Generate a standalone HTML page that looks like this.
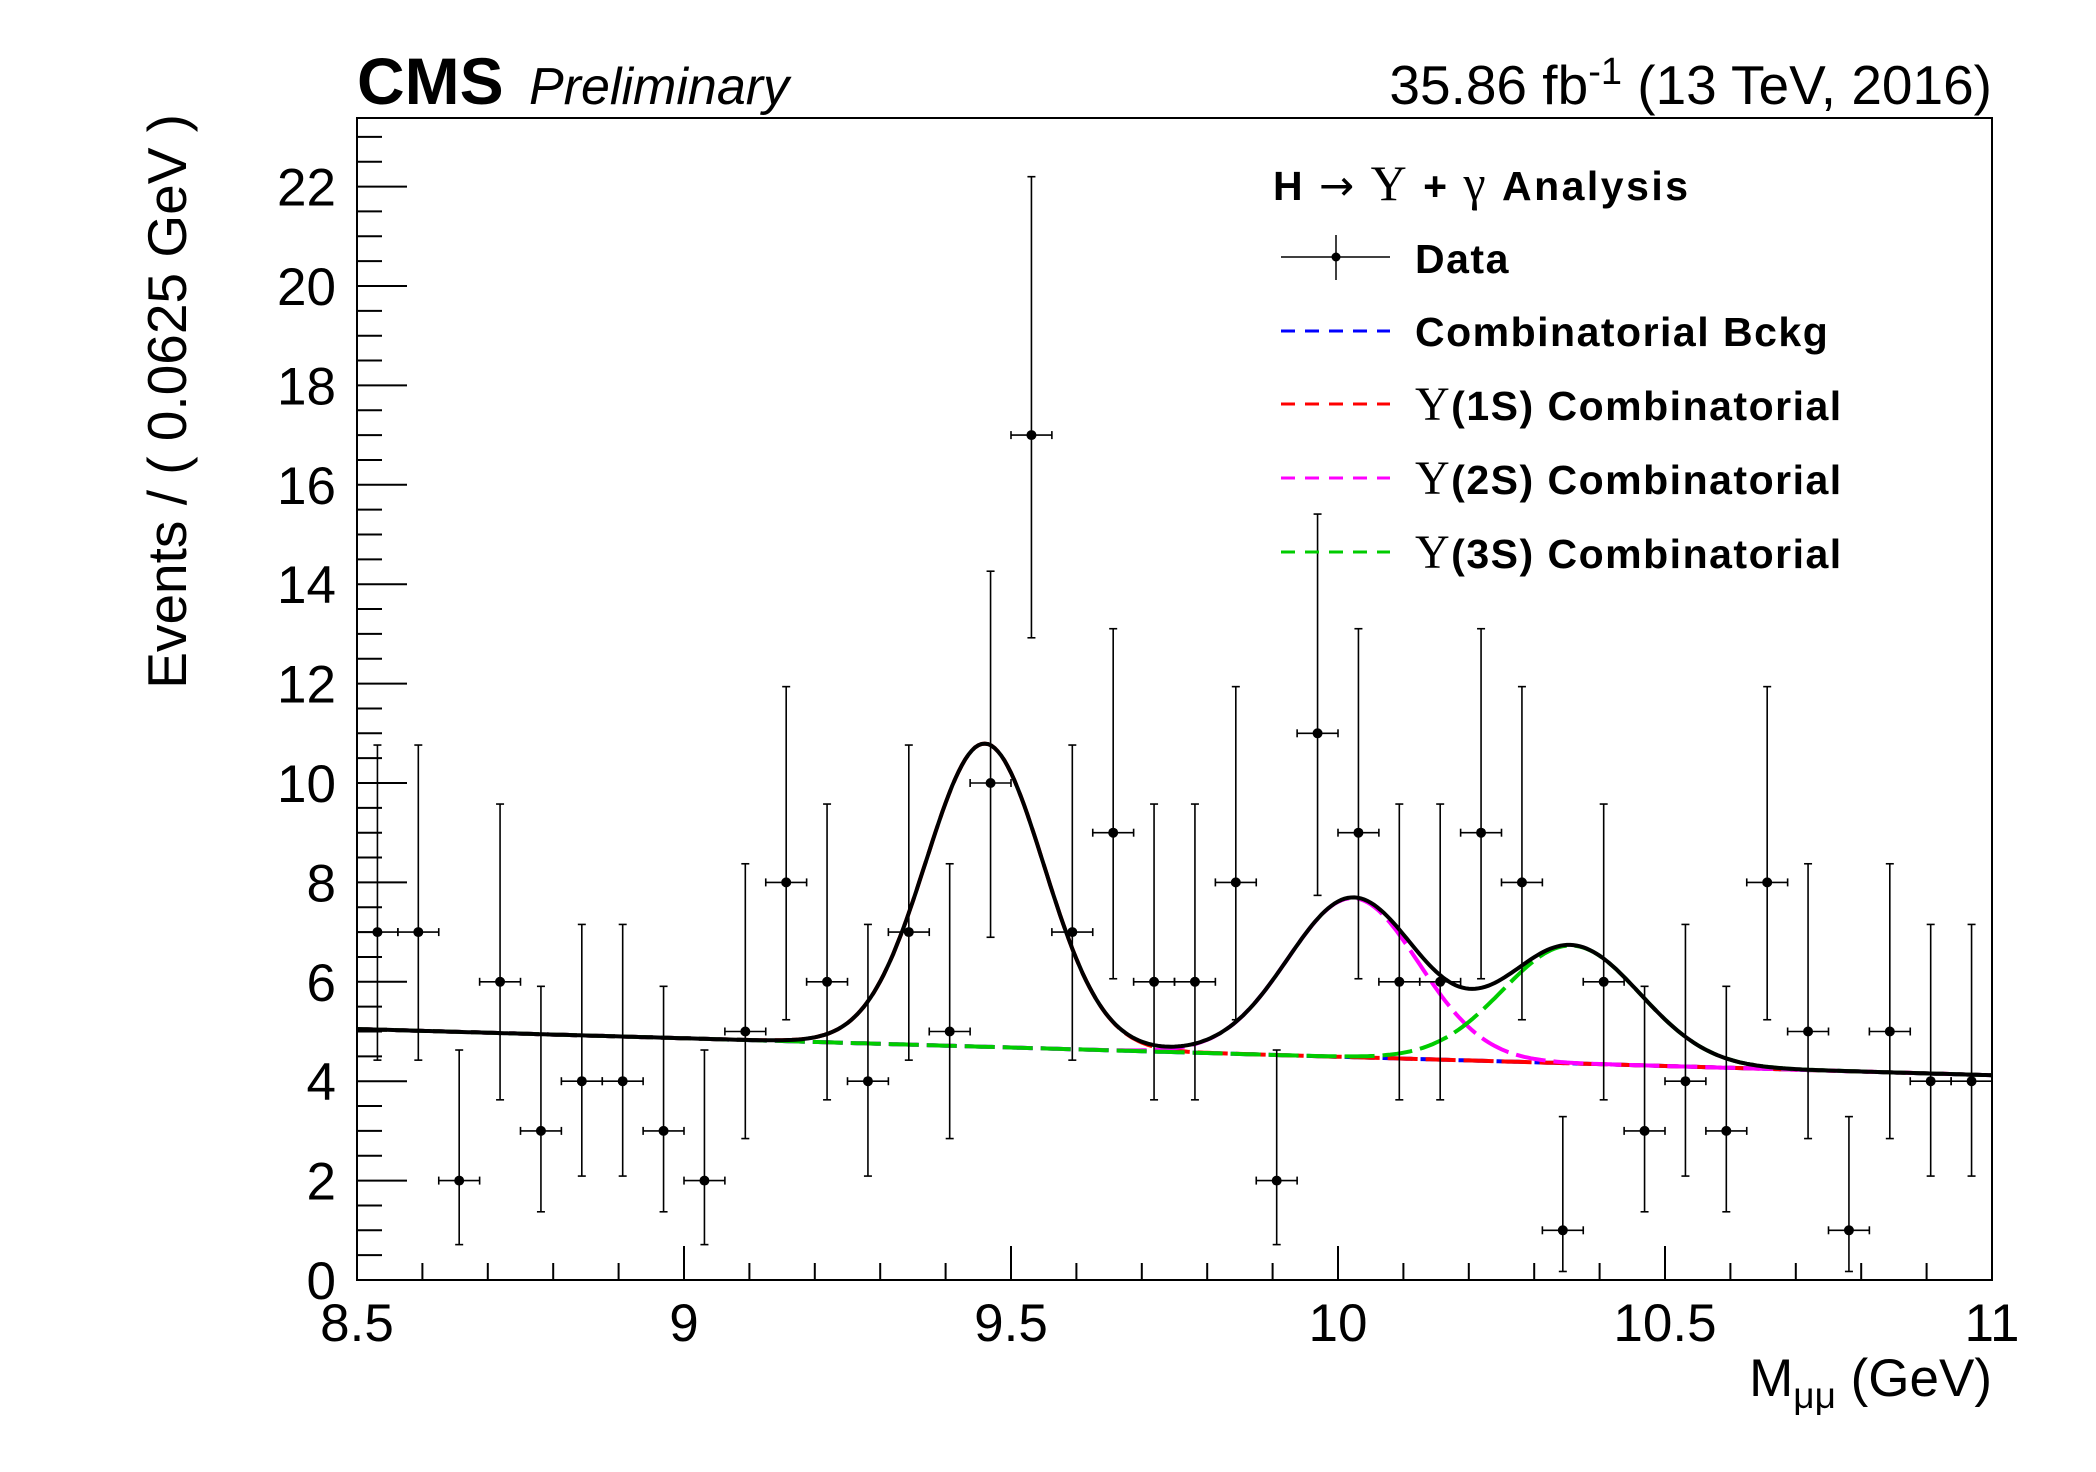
<!DOCTYPE html>
<html><head><meta charset="utf-8"><style>
html,body{margin:0;padding:0;background:#fff;}
svg{display:block;font-family:"Liberation Sans",sans-serif;}
</style></head><body>
<svg id="chart" width="2096" height="1472" viewBox="0 0 2096 1472" xmlns="http://www.w3.org/2000/svg">
<rect x="0" y="0" width="2096" height="1472" fill="#fff"/>
<g id="curves"></g>
<g id="data"></g>
<rect x="357" y="118" width="1635" height="1162" fill="none" stroke="#000" stroke-width="2"/>
<g id="axes"></g>
<text x="357" y="104" font-size="66" font-weight="bold">CMS</text>
<text x="529" y="104" font-size="52" font-style="italic">Preliminary</text>
<text x="1992" y="104" font-size="55" text-anchor="end">35.86 fb<tspan dy="-20" font-size="38">-1</tspan><tspan dy="20"> (13 TeV, 2016)</tspan></text>
<text transform="translate(186,114) rotate(-90)" font-size="55" text-anchor="end">Events / ( 0.0625 GeV )</text>
<text x="1992" y="1396" font-size="53" text-anchor="end">M<tspan dy="12" font-size="37">μμ</tspan><tspan dy="-12"> (GeV)</tspan></text>
<g font-weight="bold" font-size="41" letter-spacing="1.5">
<text x="1273" y="200" letter-spacing="2.5">H  <tspan font-weight="normal" font-family="'DejaVu Sans',sans-serif" font-size="42">→</tspan>  <tspan font-weight="normal" font-family="'Liberation Serif',serif" font-size="50">Υ</tspan> + <tspan font-weight="normal" font-family="'Liberation Serif',serif" font-size="50">γ</tspan> Analysis</text>
<g>
<line x1="1281" y1="257" x2="1390" y2="257" stroke="#000" stroke-width="1.5"/>
<line x1="1336" y1="235" x2="1336" y2="280" stroke="#000" stroke-width="1.5"/>
<circle cx="1336" cy="257" r="4.5" fill="#000"/>
<text x="1415" y="273">Data</text></g>
<g>
<line x1="1281" y1="331" x2="1390" y2="331" stroke="#0000ff" stroke-width="3" stroke-dasharray="14 10"/>
<text x="1415" y="346">Combinatorial Bckg</text></g>
<g>
<line x1="1281" y1="404" x2="1390" y2="404" stroke="#ff0000" stroke-width="3" stroke-dasharray="14 10"/>
<text x="1415" y="420"><tspan font-weight="normal" font-family="'Liberation Serif',serif" font-size="48">Υ</tspan>(1S) Combinatorial</text></g>
<g>
<line x1="1281" y1="478" x2="1390" y2="478" stroke="#ff00ff" stroke-width="3" stroke-dasharray="14 10"/>
<text x="1415" y="494"><tspan font-weight="normal" font-family="'Liberation Serif',serif" font-size="48">Υ</tspan>(2S) Combinatorial</text></g>
<g>
<line x1="1281" y1="552" x2="1390" y2="552" stroke="#00cc00" stroke-width="3" stroke-dasharray="14 10"/>
<text x="1415" y="568"><tspan font-weight="normal" font-family="'Liberation Serif',serif" font-size="48">Υ</tspan>(3S) Combinatorial</text></g>
</g>
</svg>
<script>
const counts = [7,7,2,6,3,4,4,3,2,5,8,6,4,7,5,10,17,7,9,6,6,8,2,11,9,6,6,9,8,1,6,3,4,3,8,5,1,5,4,4];
const binStart = 8.5;
const binWidth = 0.0625;
const xTicks = [8.5,9,9.5,10,10.5,11];
const xTickLabels = ["8.5","9","9.5","10","10.5","11"];
const yTicks = [0,2,4,6,8,10,12,14,16,18,20,22];
const bkgEnds = [5.05, 4.12];
const peakMeans = [9.46, 10.023, 10.357];
const peakAmps = [6.1, 3.2, 2.37];
const peakSigmas = [0.09, 0.1, 0.105];

const NS="http://www.w3.org/2000/svg";
const X0=357,X1=1992,Y0=1280,YT=118,XMIN=8.5,XMAX=11,YMAX=23.38;
const sx=v=>X0+(v-XMIN)/(XMAX-XMIN)*(X1-X0);
const sy=v=>Y0-v/YMAX*(Y0-YT);
function mk(tag,attrs,parent){const e=document.createElementNS(NS,tag);for(const k in attrs)e.setAttribute(k,attrs[k]);parent.appendChild(e);return e;}
function garwood(n){
  if(n===0)return [0,1.84];
  const lo=n*Math.pow(1-1/(9*n)-1/(3*Math.sqrt(n)),3);
  const m=n+1;const hi=m*Math.pow(1-1/(9*m)+1/(3*Math.sqrt(m)),3);
  return [lo,hi];
}
const axes=document.getElementById('axes');
for(let v=8.5;v<=11.0001;v+=0.1){
  const major=Math.abs(v*2-Math.round(v*2))<1e-6;
  const t=mk('line',{x1:sx(v),x2:sx(v),y1:Y0,y2:Y0-(major?34:17),stroke:'#000','stroke-width':2},axes);
  
  
}
xTicks.forEach((v,i)=>{
  const t=mk('text',{x:sx(v),y:1341,'font-size':53,'text-anchor':'middle'},axes);
  t.textContent=xTickLabels[i];
  
  
});
for(let v=0;v<=23.01;v+=0.5){
  const major=Math.abs(v/2-Math.round(v/2))<1e-6;
  const t=mk('line',{x1:X0,x2:X0+(major?50:25),y1:sy(v),y2:sy(v),stroke:'#000','stroke-width':2},axes);
  
  
}
yTicks.forEach(v=>{
  const t=mk('text',{x:336,y:sy(v)+19,'font-size':53,'text-anchor':'end'},axes);
  t.textContent=String(v);
  
  
});
function bkg(x){return bkgEnds[0]+(bkgEnds[1]-bkgEnds[0])*(x-XMIN)/(XMAX-XMIN);}
function peak(i,x){return peakAmps[i]*Math.exp(-0.5*Math.pow((x-peakMeans[i])/peakSigmas[i],2));}
function pathOf(f){let d='';for(let k=0;k<=500;k++){const x=XMIN+(XMAX-XMIN)*k/500;d+=(k?'L':'M')+sx(x).toFixed(1)+' '+sy(f(x)).toFixed(1);}return d;}
const cg=document.getElementById('curves');
const defs=[
 ['bkg-curve','#0000ff',x=>bkg(x),'30 8',4],
 ['upsilon-1s-curve','#ff0000',x=>bkg(x)+peak(0,x),'30 8',4],
 ['upsilon-2s-curve','#ff00ff',x=>bkg(x)+peak(1,x),'30 8',4],
 ['upsilon-3s-curve','#00cc00',x=>bkg(x)+peak(2,x),'30 8',4],
 ['total-fit-curve','#000',x=>bkg(x)+peak(0,x)+peak(1,x)+peak(2,x),'',4]
];
defs.forEach(d=>{
  const p=mk('path',{d:pathOf(d[2]),fill:'none',stroke:d[1],'stroke-width':d[4],'stroke-dasharray':d[3]||'none'},cg);
  
  
});
const dg=document.getElementById('data');
counts.forEach((n,i)=>{
  const xc=binStart+binWidth*(i+0.5);
  const [lo,hi]=garwood(n);
  const g=mk('g',{stroke:'#000','stroke-width':1.6},dg);
  
  
  const cx=sx(xc),cy=sy(n),xl=sx(xc-binWidth/2),xr=sx(xc+binWidth/2);
  const yl=Math.min(sy(lo),Y0),yh=sy(hi);
  mk('line',{x1:cx,x2:cx,y1:yl,y2:yh},g);
  mk('line',{x1:xl,x2:xr,y1:cy,y2:cy},g);
  mk('line',{x1:cx-4,x2:cx+4,y1:yh,y2:yh},g);
  if(sy(lo)<Y0)mk('line',{x1:cx-4,x2:cx+4,y1:yl,y2:yl},g);
  mk('line',{x1:xl,x2:xl,y1:cy-4,y2:cy+4},g);
  mk('line',{x1:xr,x2:xr,y1:cy-4,y2:cy+4},g);
  mk('circle',{cx:cx,cy:cy,r:5,fill:'#000',stroke:'none'},g);
});
</script>
</body></html>
